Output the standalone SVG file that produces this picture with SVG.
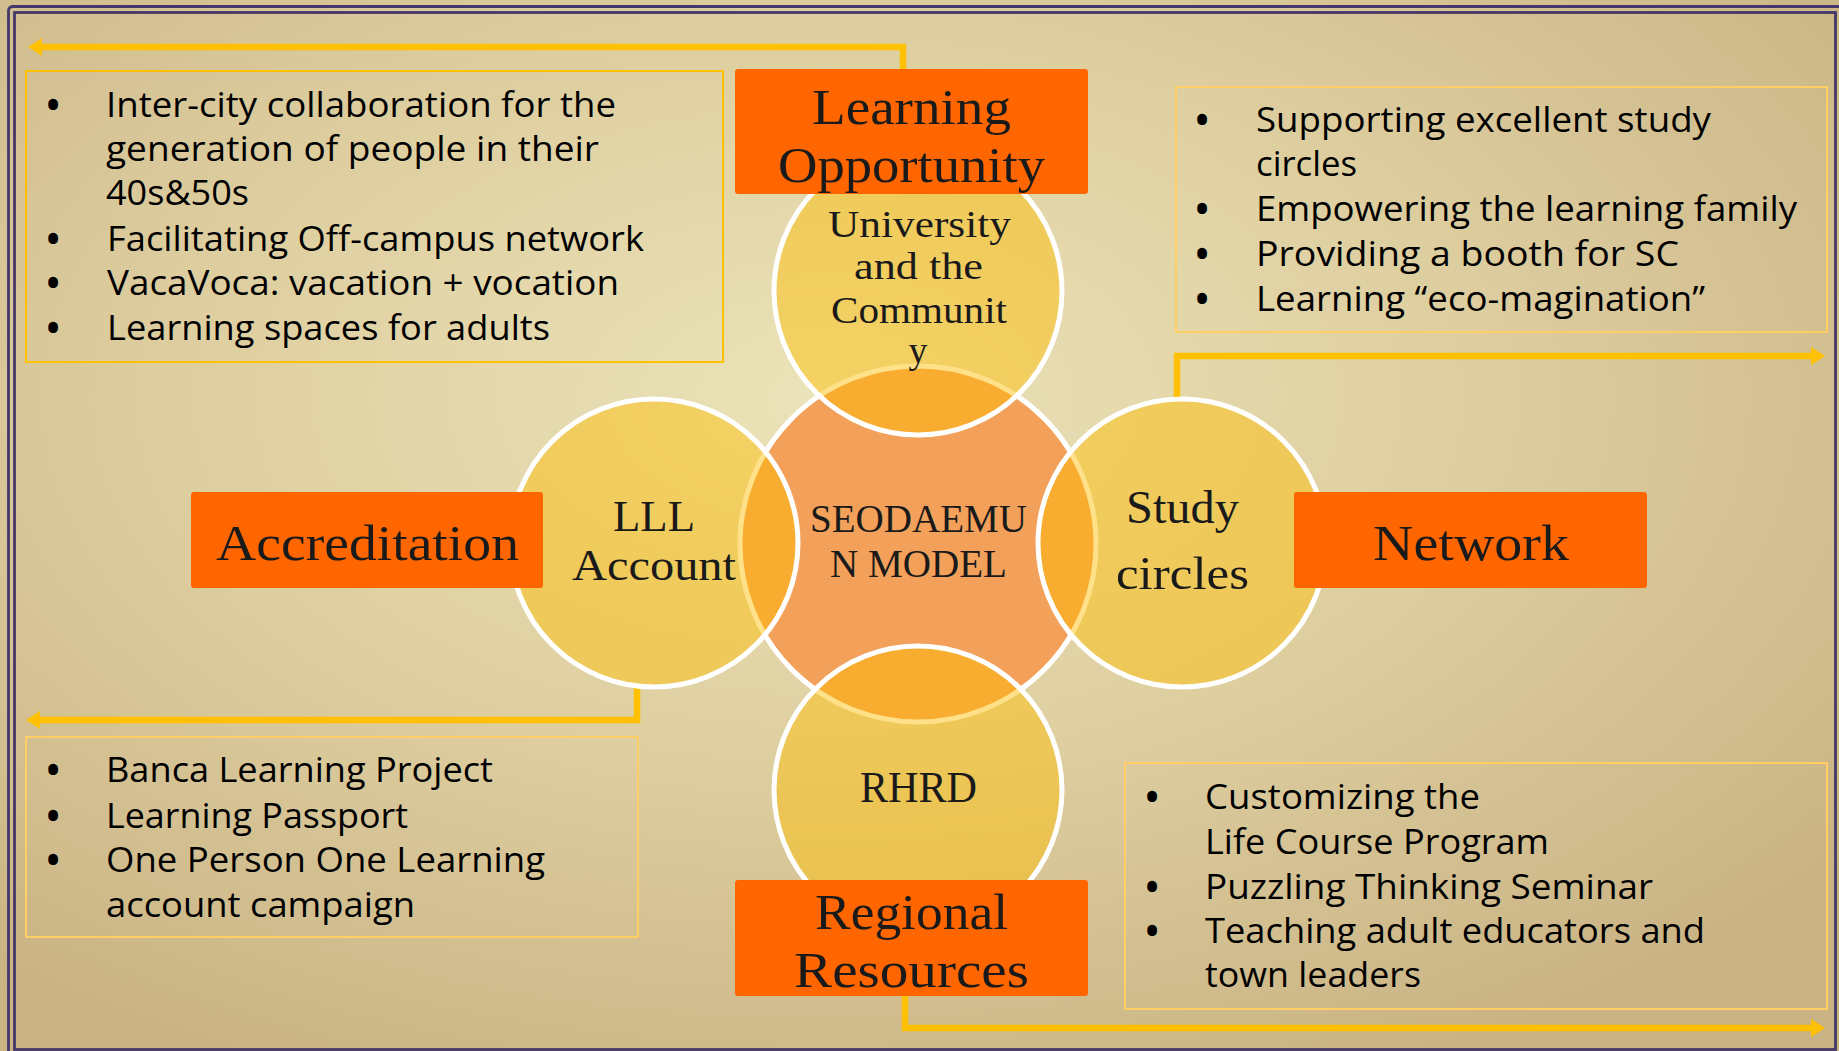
<svg xmlns="http://www.w3.org/2000/svg" width="1839" height="1051" viewBox="0 0 1839 1051">
<defs>
<radialGradient id="bg" cx="0.45" cy="0.38" r="0.72">
<stop offset="0" stop-color="#ebe3b9"/>
<stop offset="0.45" stop-color="#dfd0a2"/>
<stop offset="1" stop-color="#c9b283"/>
</radialGradient>
<marker id="arrow" markerUnits="userSpaceOnUse" markerWidth="16" markerHeight="20" refX="1" refY="9" orient="auto">
<path d="M0,0 L14,9 L0,18 z" fill="#ffc000"/>
</marker>
<style>
.frame{fill:none;stroke:#45376a;stroke-width:2.8}
.outer{fill:#ffbe00;fill-opacity:0.46;stroke:#ffffff;stroke-width:5}
.center{fill:#f2a05a;stroke:#ffffff;stroke-width:5}
.obox{fill:#ff6600}
.lbl{font-family:"Liberation Serif","Times New Roman",serif;fill:#1a1a1a;text-anchor:middle}
.tbox{fill:none;stroke:#ffcf66;stroke-width:2}
.tbox1{fill:none;stroke:#ffc000;stroke-width:2}
.bt{font-family:"Open Sans","Noto Sans",sans-serif;font-size:35px;fill:#000}
.bul{font-family:"Open Sans","Noto Sans",sans-serif;font-size:35px;font-weight:700;fill:#000;text-anchor:middle}
.conn{fill:none;stroke:#ffc000;stroke-width:6.5;marker-end:url(#arrow)}
</style>
</defs>
<rect x="0" y="0" width="1839" height="1051" fill="url(#bg)"/>
<rect class="frame" x="8.5" y="6.5" width="1840" height="1055" rx="4"/>
<rect class="frame" x="14.5" y="12.5" width="1821" height="1037"/>

<g id="connectors">
<path class="conn" d="M903,69 V47 H41"/>
<path class="conn" d="M1177,402 V356 H1812"/>
<path class="conn" d="M637,688 V720 H39"/>
<path class="conn" d="M905,996 V1028 H1812"/>
</g>

<g id="node-center">
<circle class="center" cx="918" cy="544" r="178"/>
</g>
<g id="node-university">
<circle class="outer" cx="918" cy="291" r="144"/>
</g>
<g id="node-lll">
<circle class="outer" cx="654" cy="543" r="144"/>
</g>
<g id="node-study">
<circle class="outer" cx="1182" cy="543" r="144"/>
</g>
<g id="node-rhrd">
<circle class="outer" cx="918" cy="790" r="144"/>
</g>

<g id="labels-circles">
<text class="lbl" font-size="39" x="918.5" y="532" textLength="217" lengthAdjust="spacingAndGlyphs">SEODAEMU</text>
<text class="lbl" font-size="39" x="918.5" y="577" textLength="177" lengthAdjust="spacingAndGlyphs">N MODEL</text>
<text class="lbl" font-size="38" x="919.5" y="237" textLength="183" lengthAdjust="spacingAndGlyphs">University</text>
<text class="lbl" font-size="38" x="918.5" y="279" textLength="129" lengthAdjust="spacingAndGlyphs">and the</text>
<text class="lbl" font-size="38" x="919" y="323" textLength="176" lengthAdjust="spacingAndGlyphs">Communit</text>
<text class="lbl" font-size="38" x="918" y="363">y</text>
<text class="lbl" font-size="45" x="654" y="531" textLength="82" lengthAdjust="spacingAndGlyphs">LLL</text>
<text class="lbl" font-size="45" x="654" y="580" textLength="164" lengthAdjust="spacingAndGlyphs">Account</text>
<text class="lbl" font-size="46" x="1182.5" y="523" textLength="113" lengthAdjust="spacingAndGlyphs">Study</text>
<text class="lbl" font-size="46" x="1182.5" y="589" textLength="133" lengthAdjust="spacingAndGlyphs">circles</text>
<text class="lbl" font-size="45" x="918.5" y="802" textLength="117" lengthAdjust="spacingAndGlyphs">RHRD</text>
</g>

<g id="node-learning-opportunity">
<rect class="obox" x="735" y="69" width="353" height="125" rx="3"/>
<text class="lbl" font-size="50" x="911.5" y="124" textLength="199" lengthAdjust="spacingAndGlyphs">Learning</text>
<text class="lbl" font-size="50" x="911.5" y="182" textLength="267" lengthAdjust="spacingAndGlyphs">Opportunity</text>
</g>
<g id="node-accreditation">
<rect class="obox" x="191" y="492" width="352" height="96" rx="3"/>
<text class="lbl" font-size="50" x="367.5" y="560" textLength="303" lengthAdjust="spacingAndGlyphs">Accreditation</text>
</g>
<g id="node-network">
<rect class="obox" x="1294" y="492" width="353" height="96" rx="3"/>
<text class="lbl" font-size="50" x="1471" y="560" textLength="196" lengthAdjust="spacingAndGlyphs">Network</text>
</g>
<g id="node-regional-resources">
<rect class="obox" x="735" y="880" width="353" height="116" rx="3"/>
<text class="lbl" font-size="50" x="911.5" y="929" textLength="193" lengthAdjust="spacingAndGlyphs">Regional</text>
<text class="lbl" font-size="50" x="911.5" y="987" textLength="235" lengthAdjust="spacingAndGlyphs">Resources</text>
</g>

<g id="list-top-left">
<rect class="tbox1" x="26" y="71" width="697" height="291"/>
<text class="bul" x="53" y="118">•</text>
<text class="bt" x="106" y="117" textLength="510" lengthAdjust="spacingAndGlyphs">Inter-city collaboration for the</text>
<text class="bt" x="106" y="161" textLength="493" lengthAdjust="spacingAndGlyphs">generation of people in their</text>
<text class="bt" x="106" y="205" textLength="143" lengthAdjust="spacingAndGlyphs">40s&amp;50s</text>
<text class="bul" x="53" y="252">•</text>
<text class="bt" x="107" y="251" textLength="537" lengthAdjust="spacingAndGlyphs">Facilitating Off-campus network</text>
<text class="bul" x="53" y="296">•</text>
<text class="bt" x="107" y="295" textLength="512" lengthAdjust="spacingAndGlyphs">VacaVoca: vacation + vocation</text>
<text class="bul" x="53" y="341">•</text>
<text class="bt" x="107" y="340" textLength="443" lengthAdjust="spacingAndGlyphs">Learning spaces for adults</text>
</g>

<g id="list-top-right">
<rect class="tbox" x="1176" y="87" width="651" height="245"/>
<text class="bul" x="1202" y="133">•</text>
<text class="bt" x="1256" y="132" textLength="455" lengthAdjust="spacingAndGlyphs">Supporting excellent study</text>
<text class="bt" x="1256" y="176" textLength="101" lengthAdjust="spacingAndGlyphs">circles</text>
<text class="bul" x="1202" y="222">•</text>
<text class="bt" x="1256" y="221" textLength="541" lengthAdjust="spacingAndGlyphs">Empowering the learning family</text>
<text class="bul" x="1202" y="267">•</text>
<text class="bt" x="1256" y="266" textLength="423" lengthAdjust="spacingAndGlyphs">Providing a booth for SC</text>
<text class="bul" x="1202" y="312">•</text>
<text class="bt" x="1256" y="311" textLength="449" lengthAdjust="spacingAndGlyphs">Learning “eco-magination”</text>
</g>

<g id="list-bottom-left">
<rect class="tbox" x="26" y="737" width="612" height="200"/>
<text class="bul" x="53" y="783">•</text>
<text class="bt" x="106" y="782" textLength="387" lengthAdjust="spacingAndGlyphs">Banca Learning Project</text>
<text class="bul" x="53" y="829">•</text>
<text class="bt" x="106" y="828" textLength="302" lengthAdjust="spacingAndGlyphs">Learning Passport</text>
<text class="bul" x="53" y="873">•</text>
<text class="bt" x="106" y="872" textLength="439" lengthAdjust="spacingAndGlyphs">One Person One Learning</text>
<text class="bt" x="106" y="917" textLength="309" lengthAdjust="spacingAndGlyphs">account campaign</text>
</g>

<g id="list-bottom-right">
<rect class="tbox" x="1125" y="763" width="702" height="246"/>
<text class="bul" x="1152" y="810">•</text>
<text class="bt" x="1205" y="809" textLength="275" lengthAdjust="spacingAndGlyphs">Customizing the</text>
<text class="bt" x="1205" y="854" textLength="344" lengthAdjust="spacingAndGlyphs">Life Course Program</text>
<text class="bul" x="1152" y="900">•</text>
<text class="bt" x="1205" y="899" textLength="448" lengthAdjust="spacingAndGlyphs">Puzzling Thinking Seminar</text>
<text class="bul" x="1152" y="944">•</text>
<text class="bt" x="1205" y="943" textLength="500" lengthAdjust="spacingAndGlyphs">Teaching adult educators and</text>
<text class="bt" x="1205" y="987" textLength="216" lengthAdjust="spacingAndGlyphs">town leaders</text>
</g>
</svg>
